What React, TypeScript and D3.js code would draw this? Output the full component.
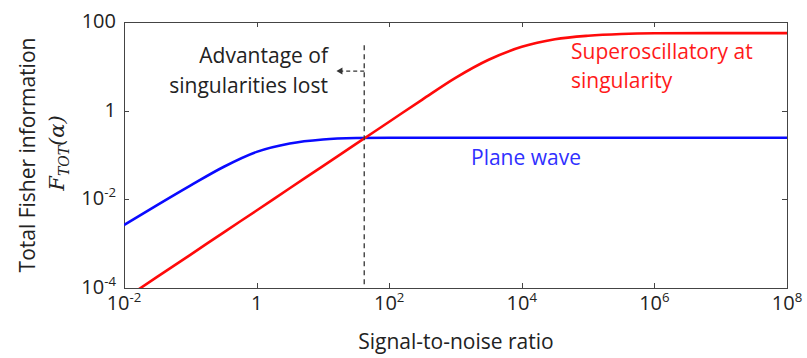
import React from "react";
import * as d3 from "d3";

// ---- data ----
const snr = [0.01, 0.0316, 0.1, 0.316, 1, 3.16, 10, 31.6, 100, 316, 1000, 3162, 1e4, 31623, 1e5, 316228, 1e6, 1e7, 1e8];
const planeWave = [0.00263, 0.00741, 0.0204, 0.0537, 0.1175, 0.182, 0.224, 0.241, 0.245, 0.245, 0.245, 0.245, 0.245, 0.245, 0.245, 0.245, 0.245, 0.245, 0.245];
const superosc = [5.6e-5, 1.78e-4, 5.6e-4, 1.78e-3, 5.6e-3, 0.0178, 0.056, 0.178, 0.562, 1.78, 5.5, 14.1, 27.5, 40.7, 49, 53.7, 55.6, 56.2, 56.2];

const xTicks = [1e-2, 1, 1e2, 1e4, 1e6, 1e8];
const xTickLabels = ["10^-2", "1", "10^2", "10^4", "10^6", "10^8"];
const yTicks = [1e-4, 1e-2, 1, 100];
const yTickLabels = ["10^-4", "10^-2", "1", "100"];

const thresholdSnr = 42;
const dashTopF = 30;
const arrowF = 7.8;
const arrowEndSnr = 16;

const W = 807, H = 358;
const M = { left: 124, right: 787, top: 22, bottom: 288 };
const FONT = "'Open Sans', Lato, sans-serif";

function Label({ text, x, y, anchor, size }: { text: string; x: number; y: number; anchor: string; size: number }) {
  const parts = text.split("^");
  return (
    <text x={x} y={y} textAnchor={anchor} fontFamily={FONT} fontSize={size} fill="#222">
      {parts[0]}
      {parts[1] !== undefined && (
        <tspan dy={-8} fontSize={size * 0.66}>{parts[1]}</tspan>
      )}
    </text>
  );
}

export default function App() {
  const x = d3.scaleLog().domain([1e-2, 1e8]).range([M.left, M.right]);
  const y = d3.scaleLog().domain([1e-4, 100]).range([M.bottom, M.top]);
  const line = d3
    .line<number>()
    .x((_, i) => x(snr[i]))
    .curve(d3.curveMonotoneX);
  const bluePath = line.y((d) => y(d))(planeWave) || "";
  const redPath = line.y((d) => y(d))(superosc) || "";
  const ax = "#444";
  const tx = x(thresholdSnr);
  return (
    <svg width={W} height={H} style={{ position: "absolute", left: 0, top: 0, background: "#fff" }}>
      <defs>
        <clipPath id="plot">
          <rect x={M.left} y={M.top} width={M.right - M.left} height={M.bottom - M.top} />
        </clipPath>
      </defs>
      {/* frame */}
      <rect x={M.left + 0.5} y={M.top + 0.5} width={M.right - M.left} height={M.bottom - M.top} fill="none" stroke={ax} strokeWidth={1} />
      {/* ticks */}
      {xTicks.map((t, i) => (
        <g key={"xt" + i}>
          <line x1={Math.round(x(t)) + 0.5} x2={Math.round(x(t)) + 0.5} y1={M.bottom} y2={M.bottom - 5} stroke={ax} />
          <line x1={Math.round(x(t)) + 0.5} x2={Math.round(x(t)) + 0.5} y1={M.top} y2={M.top + 5} stroke={ax} />
          <Label text={xTickLabels[i]} x={x(t)} y={310} anchor="middle" size={20} />
        </g>
      ))}
      {yTicks.map((t, i) => (
        <g key={"yt" + i}>
          <line x1={M.left} x2={M.left + 5} y1={Math.round(y(t)) + 0.5} y2={Math.round(y(t)) + 0.5} stroke={ax} />
          <line x1={M.right} x2={M.right - 5} y1={Math.round(y(t)) + 0.5} y2={Math.round(y(t)) + 0.5} stroke={ax} />
          <Label text={yTickLabels[i]} x={116} y={y(t) + 6} anchor="end" size={20} />
        </g>
      ))}
      {/* curves */}
      <g clipPath="url(#plot)">
        <path d={bluePath} fill="none" stroke="#0a0aff" strokeWidth={2.6} />
        <path d={redPath} fill="none" stroke="#ff0a0a" strokeWidth={2.6} />
      </g>
      {/* threshold annotation */}
      <line x1={tx} x2={tx} y1={y(dashTopF)} y2={M.bottom} stroke="#333" strokeWidth={1.3} strokeDasharray="5,4" />
      <line x1={tx} x2={x(arrowEndSnr) + 5} y1={y(arrowF)} y2={y(arrowF)} stroke="#333" strokeWidth={1.3} strokeDasharray="4,3" />
      <path d={`M${x(arrowEndSnr)},${y(arrowF)} l6,-3.5 l0,7 z`} fill="#333" />
      <text x={328} y={63} textAnchor="end" fontFamily={FONT} fontSize={21} fill="#222">Advantage of</text>
      <text x={328} y={93} textAnchor="end" fontFamily={FONT} fontSize={21} fill="#222">singularities lost</text>
      <text x={571} y={59} fontFamily={FONT} fontSize={21} fill="#ff1a1a">Superoscillatory at</text>
      <text x={571} y={88} fontFamily={FONT} fontSize={21} fill="#ff1a1a">singularity</text>
      <text x={471} y={165} fontFamily={FONT} fontSize={21} fill="#3030ff">Plane wave</text>
      {/* axis titles */}
      <text x={456} y={349} textAnchor="middle" fontFamily={FONT} fontSize={21} fill="#222">Signal-to-noise ratio</text>
      <text transform="translate(35,155) rotate(-90)" textAnchor="middle" fontFamily={FONT} fontSize={21} fill="#222">Total Fisher information</text>
      <text transform="translate(64,153) rotate(-90)" textAnchor="middle" fontFamily="'DejaVu Serif', serif" fontStyle="italic" fontSize={21} fill="#222">
        F<tspan dy={5} fontSize={14}>TOT</tspan>
        <tspan dy={-5}>(α)</tspan>
      </text>
    </svg>
  );
}
